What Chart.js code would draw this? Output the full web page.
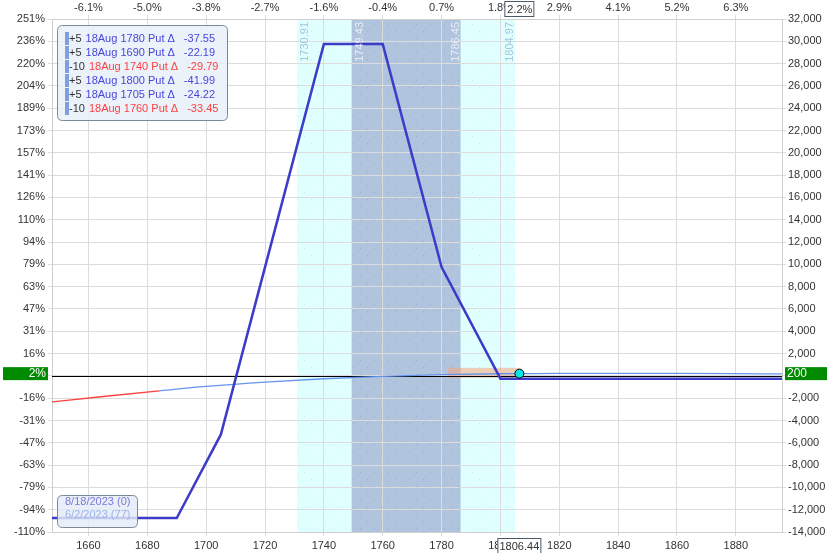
<!DOCTYPE html>
<html><head><meta charset="utf-8">
<script src="https://cdn.jsdelivr.net/npm/chart.js@4/dist/chart.umd.min.js"></script>
<style>html,body{margin:0;padding:0;background:#fff;overflow:hidden}#wrap{width:827px;height:553px;position:relative}</style>
</head><body><div id="wrap"><canvas id="c" width="827" height="553"></canvas></div>
<script>
// ---- data ----
const xMin = 1647.6, xMax = 1895.7;
const xTicks = [1660,1680,1700,1720,1740,1760,1780,1800,1820,1840,1860,1880];
const topPctLabels = ['-6.1%','-5.0%','-3.8%','-2.7%','-1.6%','-0.4%','0.7%','1.8%','2.9%','4.1%','5.2%','6.3%'];
const yMin = -14000, yMax = 32000;
const yTicks = [-14000,-12000,-10000,-8000,-6000,-4000,-2000,0,2000,4000,6000,8000,10000,12000,14000,16000,18000,20000,22000,24000,26000,28000,30000,32000];
const pctLabels = ['-110%','-94%','-79%','-63%','-47%','-31%','-16%','0%','16%','31%','47%','63%','79%','94%','110%','126%','141%','157%','173%','189%','204%','220%','236%','251%'];

const expiryPrices = [1647.6,1690,1705,1740,1760,1780,1800,1895.7];
const expiryPnL    = [-12750,-12750,-5250,29750,29750,9750,-250,-250];

const todayPrices = [1647.6,1665,1684,1700,1720,1740,1760,1780,1800,1806.44,1820,1840,1860,1880,1895.7];
const todayPnL    = [-2330,-1850,-1350,-950,-560,-260,-40,110,190,200,225,230,215,195,180];
const todayRedBelow = 1684;

const currentPrice = 1806.44, currentPnL = 200;
const currentPctLabel = '2%', currentPnLLabel = '200', currentMoveLabel = '2.2%';

const outerRange = [1730.91, 1804.97];
const innerRange = [1749.43, 1786.45];
const salmonX = [1782.2, 1806.44], salmonY = [-180, 720];

const legendQty    = ['+5','+5','-10','+5','+5','-10'];
const legendLabels = ['18Aug 1780 Put Δ','18Aug 1690 Put Δ','18Aug 1740 Put Δ','18Aug 1800 Put Δ','18Aug 1705 Put Δ','18Aug 1760 Put Δ'];
const legendDeltas = ['-37.55','-22.19','-29.79','-41.99','-24.22','-33.45'];
const dateLabels = ['8/18/2023 (0)','6/2/2023 (77)'];

// ---- helpers ----
const FONT = '"Liberation Sans", Arial, sans-serif';
const BLUE_TXT = '#4646dc', RED_TXT = '#ff4040';
function rrect(ctx,x,y,w,h,r){ctx.beginPath();ctx.moveTo(x+r,y);ctx.lineTo(x+w-r,y);ctx.quadraticCurveTo(x+w,y,x+w,y+r);ctx.lineTo(x+w,y+h-r);ctx.quadraticCurveTo(x+w,y+h,x+w-r,y+h);ctx.lineTo(x+r,y+h);ctx.quadraticCurveTo(x,y+h,x,y+h-r);ctx.lineTo(x,y+r);ctx.quadraticCurveTo(x,y,x+r,y);ctx.closePath();}
function dotPattern(ctx,color){const c=document.createElement('canvas');c.width=14;c.height=14;const g=c.getContext('2d');g.fillStyle=color;g.fillRect(3,3,1,1);g.fillRect(10,10,1,1);return ctx.createPattern(c,'repeat');}

const deco = {
  id:'deco',
  beforeDraw(chart){
    const {ctx, chartArea:a, scales:{x}} = chart;
    ctx.save();
    const ox0=x.getPixelForValue(outerRange[0]), ox1=x.getPixelForValue(outerRange[1]);
    const ix0=x.getPixelForValue(innerRange[0]), ix1=x.getPixelForValue(innerRange[1]);
    ctx.fillStyle='#e0ffff'; ctx.fillRect(ox0,a.top,ox1-ox0,a.bottom-a.top);
    ctx.fillStyle=dotPattern(ctx,'rgba(150,200,215,0.3)'); ctx.fillRect(ox0,a.top,ox1-ox0,a.bottom-a.top);
    ctx.fillStyle='#b0c4de'; ctx.fillRect(ix0,a.top,ix1-ix0,a.bottom-a.top);
    ctx.fillStyle=dotPattern(ctx,'rgba(120,140,200,0.45)'); ctx.fillRect(ix0,a.top,ix1-ix0,a.bottom-a.top);
    ctx.restore();
  },
  beforeDatasetsDraw(chart){
    const {ctx, chartArea:a, scales:{x,y}} = chart;
    ctx.save();
    const sx0=x.getPixelForValue(salmonX[0]), sx1=x.getPixelForValue(salmonX[1]);
    const sy0=y.getPixelForValue(salmonY[1]), sy1=y.getPixelForValue(salmonY[0]);
    ctx.fillStyle='rgba(245,165,125,0.55)'; ctx.fillRect(sx0,sy0,sx1-sx0,sy1-sy0);
    const zy=Math.round(y.getPixelForValue(0))+0.5;
    ctx.strokeStyle='#000'; ctx.lineWidth=1;
    ctx.beginPath(); ctx.moveTo(a.left,zy); ctx.lineTo(a.right,zy); ctx.stroke();
    ctx.restore();
  },
  afterDraw(chart){
    const {ctx, chartArea:a, scales:{x,y}} = chart;
    ctx.save();
    ctx.font='11px '+FONT; ctx.textBaseline='middle'; ctx.textAlign='right';
    const rl=[[outerRange[0],8,'#a6c6dc'],[innerRange[0],8,'#e8eef8'],[innerRange[1],-5,'#e8eef8'],[outerRange[1],-5,'#a6c6dc']];
    rl.forEach(([v,off,col])=>{
      ctx.save(); ctx.translate(x.getPixelForValue(v)+off, a.top+3); ctx.rotate(-Math.PI/2);
      ctx.fillStyle=col; ctx.fillText(v.toFixed(2),0,0); ctx.restore();
    });
    rrect(ctx,57.5,25.5,170,95,5);
    ctx.fillStyle='rgba(234,241,250,0.9)'; ctx.fill();
    ctx.strokeStyle='#7b8896'; ctx.lineWidth=1; ctx.stroke();
    ctx.textAlign='left'; ctx.font='11px '+FONT;
    legendQty.forEach((q,i)=>{
      const cy=39+i*14;
      ctx.fillStyle='#7ea0e0'; ctx.fillRect(65,cy-7,4,13);
      ctx.fillStyle='#333'; ctx.fillText(q,69,cy);
      const col = q.startsWith('-') ? RED_TXT : BLUE_TXT;
      let tx = 69+ctx.measureText(q).width+4;
      ctx.fillStyle=col; ctx.fillText(legendLabels[i],tx,cy);
      tx += ctx.measureText(legendLabels[i]).width+9;
      ctx.fillText(legendDeltas[i],tx,cy);
    });
    rrect(ctx,57.5,495.5,80,32,5);
    ctx.fillStyle='rgba(228,236,248,0.82)'; ctx.fill();
    ctx.strokeStyle='#7b8896'; ctx.stroke();
    ctx.font='11px '+FONT;
    ctx.fillStyle='#7b7bd8'; ctx.fillText(dateLabels[0],65,502);
    ctx.fillStyle='#9bb3e8'; ctx.fillText(dateLabels[1],65,515);
    const cy=y.getPixelForValue(currentPnL);
    ctx.fillStyle='#008a00';
    ctx.fillRect(3,cy-6.5,45,13); ctx.fillRect(785,cy-6.5,42,13);
    ctx.fillStyle='#fff'; ctx.font='12px '+FONT;
    ctx.textAlign='right'; ctx.fillText(currentPctLabel,46,cy+0.5);
    ctx.textAlign='left'; ctx.fillText(currentPnLLabel,787,cy+0.5);
    const px=x.getPixelForValue(currentPrice);
    ctx.font='11px '+FONT; ctx.textAlign='center';
    ctx.fillStyle='#fff'; ctx.fillRect(px-14.5,1.5,29,15);
    ctx.strokeStyle='#4a5a6a'; ctx.strokeRect(px-14.5,1.5,29,15);
    ctx.fillStyle='#333'; ctx.fillText(currentMoveLabel,px+0.5,9.5);
    ctx.fillStyle='#fff'; ctx.fillRect(px-21.5,538.5,43,16);
    ctx.strokeRect(px-21.5,538.5,43,16);
    ctx.fillStyle='#333'; ctx.fillText(currentPrice.toFixed(2),px,546.5);
    ctx.restore();
  }
};

const tickFont = {size:11, family:FONT};
const gridCol = '#dcdcdc';
const setX = s => { s.ticks = xTicks.map(v=>({value:v})); };
const setY = s => { s.ticks = yTicks.map(v=>({value:v})); };

new Chart(document.getElementById('c'), {
  type:'line',
  data:{ datasets:[
    { label:'today', data: todayPrices.map((p,i)=>({x:p,y:todayPnL[i]})),
      borderColor:'#6495ed', borderWidth:1.3, pointRadius:0, tension:0.4, cubicInterpolationMode:'monotone',
      segment:{ borderColor: c => c.p0.parsed.x < todayRedBelow ? '#ff4040' : '#6495ed' }, order:2 },
    { label:'expiry', data: expiryPrices.map((p,i)=>({x:p,y:expiryPnL[i]})),
      borderColor:'#3c3cc8', borderWidth:2.5, pointRadius:0, tension:0, order:1 },
    { label:'now', data:[{x:currentPrice,y:currentPnL}], showLine:false,
      pointRadius:4.5, pointBackgroundColor:'#00e8e8', pointBorderColor:'#000', pointBorderWidth:1, order:0 }
  ]},
  options:{
    responsive:false, animation:false, devicePixelRatio:1,
    layout:{padding:0},
    plugins:{legend:{display:false}, tooltip:{enabled:false}},
    scales:{
      x:{ type:'linear', position:'bottom', min:xMin, max:xMax, afterBuildTicks:setX,
          afterFit:s=>{s.height=21;},
          ticks:{font:tickFont, color:'#333', padding:3, maxRotation:0, autoSkip:false, callback:v=>String(v)},
          grid:{color:gridCol, tickLength:4}, border:{color:'#cfcfcf'} },
      xTop:{ type:'linear', position:'top', min:xMin, max:xMax, afterBuildTicks:setX,
          afterFit:s=>{s.height=19;},
          ticks:{font:tickFont, color:'#333', padding:0, maxRotation:0, autoSkip:false, callback:(v,i)=>topPctLabels[i]},
          grid:{drawOnChartArea:false, color:gridCol, tickLength:4}, border:{color:'#cfcfcf'} },
      y:{ type:'linear', position:'right', min:yMin, max:yMax, afterBuildTicks:setY,
          afterFit:s=>{s.width=45;},
          ticks:{font:tickFont, color:'#333', padding:2, autoSkip:false, callback:v=>v.toLocaleString('en-US')},
          grid:{color:gridCol, tickLength:4}, border:{color:'#cfcfcf'} },
      yL:{ type:'linear', position:'left', min:yMin, max:yMax, afterBuildTicks:setY,
          afterFit:s=>{s.width=52;},
          ticks:{font:tickFont, color:'#333', padding:3, autoSkip:false, callback:(v,i)=>pctLabels[i]},
          grid:{drawOnChartArea:false, color:gridCol, tickLength:4}, border:{color:'#cfcfcf'} }
    }
  },
  plugins:[deco]
});
</script></body></html>
